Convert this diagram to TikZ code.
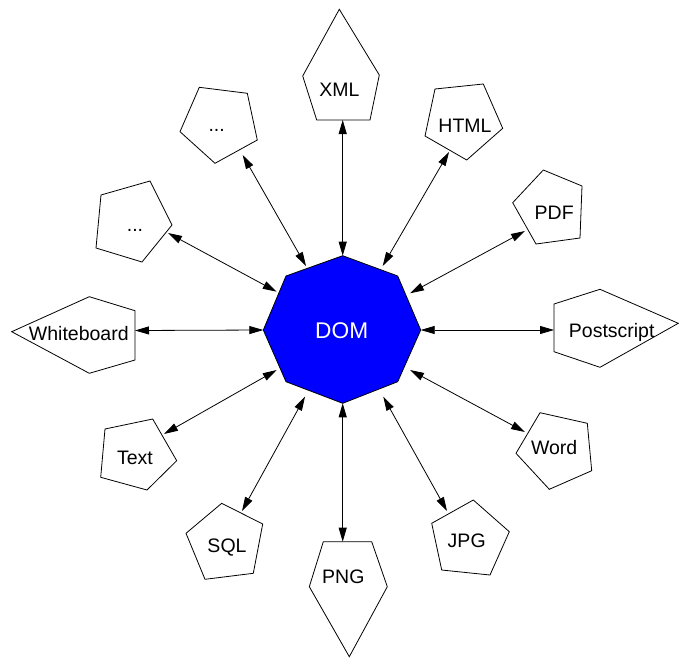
\documentclass[tikz,border=0pt]{standalone}
\usepackage{fontspec}
\setmainfont{Liberation Sans}
\usetikzlibrary{arrows.meta}
\begin{document}
\begin{tikzpicture}[x=1pt,y=-1pt,
  pent/.style={draw=black,line width=0.8pt,line join=miter},
  lbl/.style={inner sep=0pt,text height=14pt,text depth=0pt,font=\fontsize{19.5}{22}\selectfont},
  domlbl/.style={inner sep=0pt,text height=16.3pt,text depth=0pt,text=white,font=\fontsize{22.7}{26}\selectfont},
  link/.style={line width=0.8pt,{Triangle[length=14pt,width=8pt]}-{Triangle[length=14pt,width=8pt]}}]
\useasboundingbox (0,0) rectangle (679,658);
% central octagon
\draw[pent,fill=blue] (342.7,255.7) -- (397.7,276) -- (420.7,330) -- (397.7,381.7) -- (342.7,403.3) -- (286,381.7) -- (263.3,330) -- (286,276) -- cycle;
\node[domlbl] (dom) at (341.7,330.5) {DOM};
% pentagons
\draw[pent] (339.3,9.3) -- (379.3,75) -- (370,120) -- (316.7,120) -- (302.7,76) -- cycle;
\node[lbl] (xml) at (339.3,90) {XML};
\draw[pent] (435,89) -- (483.3,84) -- (502.7,128.3) -- (466.7,160) -- (425,136) -- cycle;
\node[lbl] (html) at (465,125) {HTML};
\draw[pent] (543.3,170) -- (582,186) -- (580,238) -- (536,244) -- (512.7,202.7) -- cycle;
\node[lbl] (pdf) at (554.2,212.2) {PDF};
\draw[pent] (554,304) -- (600,289.3) -- (678.3,323.3) -- (600,367.3) -- (554,351.7) -- cycle;
\node[lbl] (ps) at (611.7,330.7) {Postscript};
\draw[pent] (540,412.7) -- (587.3,423.3) -- (591.7,470.7) -- (549.3,489.3) -- (516,453.3) -- cycle;
\node[lbl] (word) at (554.2,447.3) {Word};
\draw[pent] (473.3,500) -- (509.3,531.7) -- (490,575) -- (441.7,570) -- (431.7,523.3) -- cycle;
\node[lbl] (jpg) at (466.7,540) {JPG};
\draw[pent] (323.3,541.7) -- (371.7,541.7) -- (387.3,586.7) -- (349.3,656.7) -- (309.3,586.7) -- cycle;
\node[lbl] (png) at (343.3,576.3) {PNG};
\draw[pent] (221.7,503.3) -- (262.7,524) -- (253.3,573.3) -- (205,579.3) -- (186,533.3) -- cycle;
\node[lbl] (sql) at (227,545) {SQL};
\draw[pent] (105,429) -- (152.7,419) -- (176.7,460.7) -- (147,490) -- (100.7,477.3) -- cycle;
\node[lbl] (text) at (135,457.3) {Text};
\draw[pent] (11.7,331.7) -- (89.3,296.7) -- (135,310.7) -- (135,360) -- (89.3,373.3) -- cycle;
\node[lbl] (wb) at (78.8,333.3) {Whiteboard};
\draw[pent] (101,195) -- (150,181) -- (172,225) -- (142,262) -- (96,248) -- cycle;
\node[lbl] (dotsl) at (135,224) {...};
\draw[pent] (199.3,87.3) -- (247.3,93.3) -- (257.3,140) -- (215,163.3) -- (180,131.7) -- cycle;
\node[lbl] (dotsu) at (216.7,124.7) {...};
% connector end points
\coordinate (dN) at (342.7,255.7);
\coordinate (dNE) at (382.7,266);
\coordinate (dENE) at (410,293.3);
\coordinate (dE) at (420.7,330);
\coordinate (dESE) at (410,370);
\coordinate (dSE) at (383.3,396.7);
\coordinate (dS) at (342.7,403.3);
\coordinate (dSW) at (305,396.7);
\coordinate (dWSW) at (276.7,370);
\coordinate (dW) at (263.3,330);
\coordinate (dWNW) at (276.7,291.7);
\coordinate (dNW) at (306,266);
\coordinate (xmlE) at (342.7,120);
\coordinate (htmlE) at (449,152);
\coordinate (pdfE) at (525,231);
\coordinate (psE) at (554,330);
\coordinate (wordE) at (525,432);
\coordinate (jpgE) at (447,511);
\coordinate (pngE) at (342.7,541.7);
\coordinate (sqlE) at (242,511);
\coordinate (textE) at (164,434);
\coordinate (wbE) at (135,330.5);
\coordinate (dotslE) at (168,233);
\coordinate (dotsuE) at (242.7,155);
% connectors
\draw[link] (dN) -- (xmlE);
\draw[link] (dNE) -- (htmlE);
\draw[link] (dENE) -- (pdfE);
\draw[link] (dE) -- (psE);
\draw[link] (dESE) -- (wordE);
\draw[link] (dSE) -- (jpgE);
\draw[link] (dS) -- (pngE);
\draw[link] (dSW) -- (sqlE);
\draw[link] (dWSW) -- (textE);
\draw[link] (dW) -- (wbE);
\draw[link] (dWNW) -- (dotslE);
\draw[link] (dNW) -- (dotsuE);
\end{tikzpicture}
\end{document}
